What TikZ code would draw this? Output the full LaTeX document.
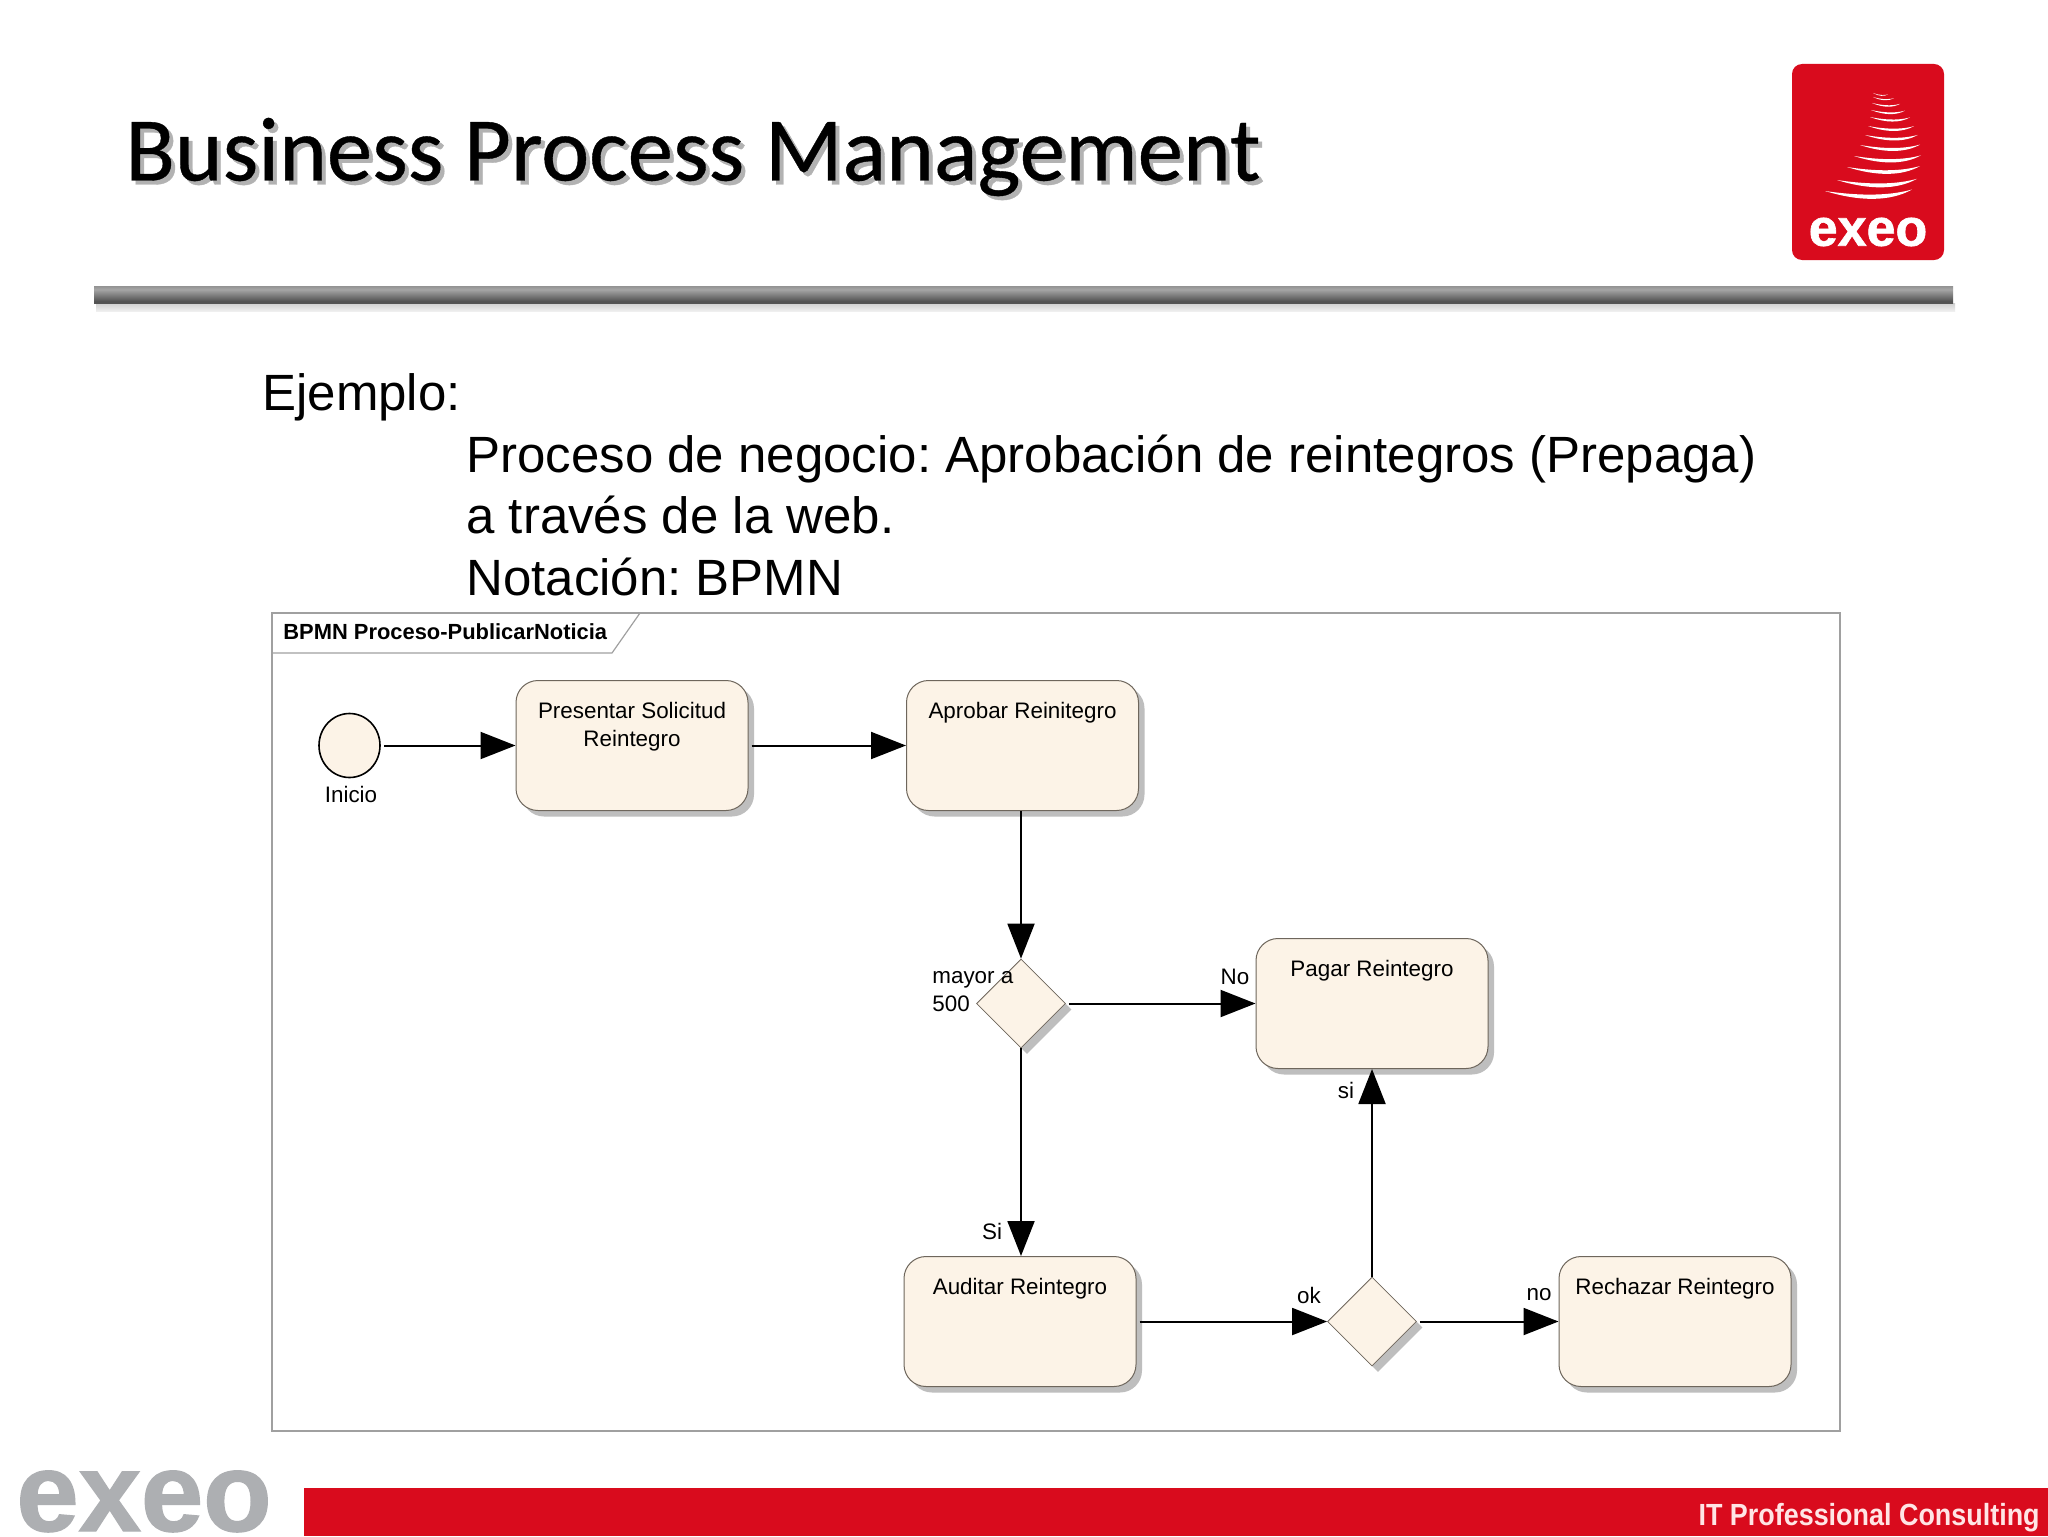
\documentclass[tikz,border=0pt]{standalone}
\usepackage{fontspec}
\setmainfont{Liberation Sans}
\newfontfamily\titlefont[FakeBold=0.4]{Carlito}
\newfontfamily\logofont[BoldFeatures={FakeBold=1.2}]{Liberation Sans}
\frenchspacing
\usepackage{tikz}
\usetikzlibrary{shapes.geometric,shadows,arrows.meta,calc}
\definecolor{taskfill}{HTML}{FCF3E7}
\definecolor{taskline}{HTML}{6E665C}
\definecolor{shadowgrey}{HTML}{BEBEBE}
\definecolor{framegrey}{HTML}{A0A0A0}
\definecolor{exeored}{HTML}{D90B1D}
\definecolor{exeogrey}{HTML}{ADAFB2}
\pgfdeclareverticalshading{barshade}{100bp}{
  color(0bp)=(black!62);
  color(30bp)=(black!68);
  color(65bp)=(black!35);
  color(85bp)=(black!50);
  color(100bp)=(black!55)}
\pgfdeclareverticalshading{barglow}{100bp}{
  color(0bp)=(white);
  color(100bp)=(black!25)}
\newcommand{\tasktext}[1]{\parbox[c][65pt][t]{114pt}{\centering\rule{0pt}{18.8pt}#1}}
\begin{document}
\begin{tikzpicture}[
x=0.5pt,
y=-0.5pt,
task/.style={
  draw=taskline,
  fill=taskfill,
  line width=0.5pt,
  rounded corners=11pt,
  inner sep=0pt,
  minimum width=116pt,
  minimum height=65pt,
  font=\fontsize{11.2}{14}\selectfont,
  drop shadow={shadow xshift=3pt,shadow yshift=-3pt,fill=shadowgrey,opacity=1}
  },
gate/.style={
  diamond,
  draw=taskline,
  fill=taskfill,
  line width=0.4pt,
  inner sep=0pt,
  minimum width=44.5pt,
  minimum height=44.5pt,
  drop shadow={shadow xshift=3pt,shadow yshift=-3pt,fill=shadowgrey,opacity=1}
  },
tag/.style={
  font=\fontsize{11.2}{14}\selectfont,
  inner sep=0pt
  },
body/.style={
  font=\fontsize{25.5}{30}\selectfont,
  anchor=base west,
  inner sep=0pt
  },
flow/.style={
  ->,
  line width=1pt
  },
>={Triangle[length=17.5pt,width=13.5pt]}
]
\clip (0,0) rectangle (2048,1536);
\fill[white] (0,0) rectangle (2048,1536);

% header
\node[anchor=west,inner sep=0pt,font=\titlefont\fontsize{45.5}{50}\selectfont,text=black!30] (titleback) at (129,161) {Business Process Management};
\node[anchor=west,inner sep=0pt,font=\titlefont\fontsize{45.5}{50}\selectfont] (title) at (125,157) {Business Process Management};
\shade[shading=barglow] (96,303) rectangle (1955,311);
\shade[shading=barshade] (94,286) rectangle (1953,303);

% logo
\fill[exeored,rounded corners=5pt] (1792,64) rectangle (1944,260);
\foreach \lx/\rx/\yy in {
  1873/1888/95, 1873/1894/99, 1872/1900/105, 1871/1905/112,
  1870/1910/119, 1868/1914/128, 1865/1918/137, 1860/1920/147,
  1854/1921/158, 1847/1920/169, 1837/1917/182, 1825/1912/193}
{
  \pgfmathsetmacro\sag{0.1*(\rx-\lx)}
  \fill[white] (\lx,\yy-2) .. controls ($(\lx,\yy)!0.4!(\rx,\yy)+(0,\sag)$) and ($(\lx,\yy)!0.75!(\rx,\yy)+(0,\sag)$) .. (\rx,\yy-0.4*\sag)
    .. controls ($(\lx,\yy)!0.8!(\rx,\yy)+(0,0.15*\sag)$) and ($(\lx,\yy)!0.5!(\rx,\yy)+(0,0.5*\sag)$) .. (\lx,\yy-2);
}
\node[text=white,inner sep=0pt,font=\logofont\fontsize{26}{26}\bfseries\selectfont] (logotext) at (1868,232) {exeo};

% intro text
\node[body] (intro) at (262,410) {Ejemplo:};
\node[body] (line1) at (466,472) {Proceso de negocio: Aprobación de reintegros (Prepaga)};
\node[body] (line2) at (466,533.5) {a través de la web.};
\node[body] (line3) at (466,595) {Notación: BPMN};

% frame
\draw[framegrey,line width=0.6pt] (272,613) rectangle (1840,1431);
\draw[framegrey,line width=0.6pt] (272,653) -- (612,653) -- (640,613);
\node[anchor=west,inner sep=0pt,font=\fontsize{10.95}{13}\bfseries\selectfont] (frametitle) at (283,632) {BPMN Proceso-PublicarNoticia};

% process
\node[ellipse,draw,fill=taskfill,line width=0.8pt,inner sep=0pt,minimum width=30.5pt,minimum height=32pt] (inicio) at (349.5,745.5) {};
\node[tag] (iniciotext) at (351,794) {Inicio};
\node[task] (presentar) at (632,745.5) {\tasktext{Presentar Solicitud\\Reintegro}};
\node[task] (aprobar) at (1022.5,745.5) {\tasktext{Aprobar Reinitegro}};
\node[gate] (mayor) at (1021,1003.5) {};
\node[task] (pagar) at (1372,1003.5) {\tasktext{Pagar Reintegro}};
\node[task] (auditar) at (1020,1321.5) {\tasktext{Auditar Reintegro}};
\node[gate] (ok) at (1372,1321.5) {};
\node[task] (rechazar) at (1675,1321.5) {\tasktext{Rechazar Reintegro}};

\foreach \from/\to in {inicio/presentar,presentar/aprobar,mayor/pagar,auditar/ok,ok/rechazar}
  \draw[flow,shorten <=1.5pt] (\from.east) -- (\to.west);
\draw[flow] (aprobar.south -| mayor.north) -- (mayor.north);
\draw[flow] (mayor.south) -- (mayor.south |- auditar.north);
\draw[flow] (ok.north) -- (pagar.south);

\node[tag,align=left,anchor=west] (mayortext) at (932,992) {mayor a\\500};
\node[tag] (notext) at (1235,977) {No};
\node[tag] (sitext) at (1346,1090) {si};
\node[tag] (Sitext) at (992,1231) {Si};
\node[tag] (oktext) at (1309,1295) {ok};
\node[tag] (nolabel) at (1539,1295) {no};

% footer
\fill[exeored] (304,1488) rectangle (2048,1536);
\node[anchor=base west,inner sep=0pt,text=exeogrey,font=\logofont\fontsize{56}{56}\bfseries\selectfont] (footlogo) at (16,1531) {exeo};
\node[anchor=east,inner sep=0pt,text=white!90!red,xscale=0.88,transform shape,font=\fontsize{15.3}{17}\bfseries\selectfont] (foottext) at (2040,1518) {IT Professional Consulting};
\end{tikzpicture}
\end{document}
